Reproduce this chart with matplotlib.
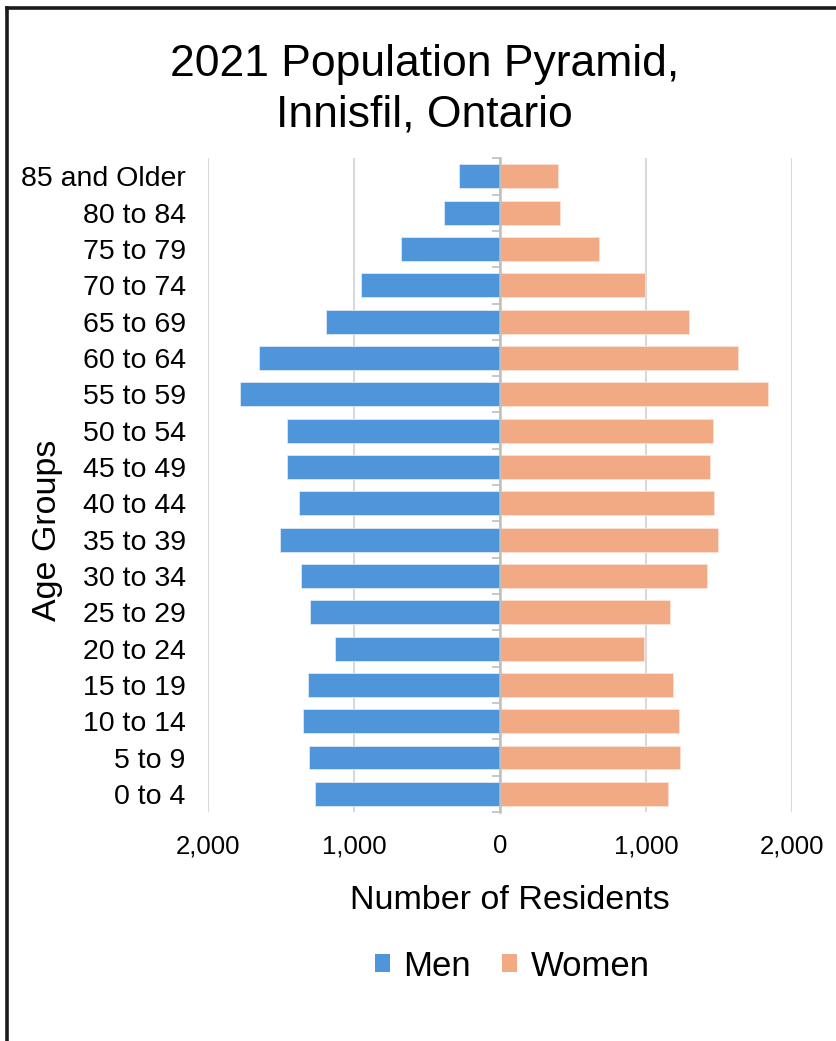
import matplotlib
matplotlib.use("Agg")
import matplotlib.pyplot as plt
from matplotlib.lines import Line2D
from matplotlib.patches import Patch
from matplotlib.ticker import FuncFormatter, FixedLocator, NullFormatter

plt.rcParams['font.family'] = ['Liberation Sans', 'DejaVu Sans']

age_groups = ["0 to 4", "5 to 9", "10 to 14", "15 to 19", "20 to 24", "25 to 29",
              "30 to 34", "35 to 39", "40 to 44", "45 to 49", "50 to 54", "55 to 59",
              "60 to 64", "65 to 69", "70 to 74", "75 to 79", "80 to 84", "85 and Older"]
men = [1268, 1307, 1348, 1318, 1129, 1303, 1362, 1510, 1378, 1458, 1458, 1780,
       1649, 1190, 949, 675, 385, 279]
women = [1153, 1232, 1227, 1182, 985, 1163, 1421, 1494, 1469, 1440, 1460, 1837,
         1629, 1291, 994, 681, 410, 398]
x_ticks = [-2000, -1000, 0, 1000, 2000]

men_color = "#4F95D9"
women_color = "#F1AA84"

fig = plt.figure(figsize=(8.36, 10.41), dpi=100)
rect = [0.2488, 0.22, 0.6986, 0.628]
ax = fig.add_axes(rect)

ypos = list(range(len(age_groups)))
ax.barh(ypos, [-v for v in men], height=0.66, color=men_color,
        edgecolor="#DCE9F7", linewidth=0.6, label="Men", zorder=3)
ax.barh(ypos, women, height=0.66, color=women_color,
        edgecolor="#FBE3D6", linewidth=0.6, label="Women", zorder=3)

ax.set_xlim(-2000, 2000)
ax.set_ylim(-0.5, len(age_groups) - 0.5)

for s in ax.spines.values():
    s.set_visible(False)

ax.set_xticks(x_ticks)
ax.xaxis.set_major_formatter(FuncFormatter(lambda v, p: f"{abs(int(v)):,}"))
ax.tick_params(axis="x", length=0, labelsize=18.5, pad=16)
ax.set_yticks(ypos)
ax.set_yticklabels(age_groups)
ax.tick_params(axis="y", length=0, labelsize=20.5, pad=16)
ax.grid(axis="x", color="#D9D9D9", linewidth=1.5, zorder=0)
ax.set_axisbelow(True)

# category axis line at zero with boundary ticks pointing left
axz = fig.add_axes(rect, zorder=5)
axz.patch.set_alpha(0)
axz.set_xlim(-2000, 2000)
axz.set_ylim(-0.5, len(age_groups) - 0.5)
for side in ("top", "right", "bottom"):
    axz.spines[side].set_visible(False)
axz.spines["left"].set_position(("data", 0))
axz.spines["left"].set_color("#BFBFBF")
axz.spines["left"].set_linewidth(1.8)
axz.set_xticks([])
axz.yaxis.set_major_locator(FixedLocator(
    [i - 0.5 for i in range(len(age_groups) + 1)]))
axz.yaxis.set_major_formatter(NullFormatter())
axz.tick_params(axis="y", length=6, width=1.2, color="#BFBFBF",
                direction="out", left=True, right=False, labelleft=False)

fig.text(0.61, 0.1354, "Number of Residents", fontsize=24.5,
         ha="center", va="center")
fig.text(0.057, 0.491, "Age Groups", rotation=90, fontsize=24.5,
         ha="center", va="center")

fig.text(0.508, 0.938, "2021 Population Pyramid,", fontsize=32,
         ha="center", va="center")
fig.text(0.508, 0.890, "Innisfil, Ontario", fontsize=32,
         ha="center", va="center")

handles = [Patch(facecolor=men_color, label="Men"),
           Patch(facecolor=women_color, label="Women")]
fig.legend(handles=handles, loc="center", bbox_to_anchor=(0.613, 0.072),
           ncol=2, frameon=False, fontsize=25, handlelength=0.42,
           handleheight=0.42, handletextpad=0.4, columnspacing=0.9)

# outer frame on top and left edges
fig.add_artist(Line2D([0.0085, 1.0], [0.9925, 0.9925], color="#1A1A1A",
                      linewidth=2.6, transform=fig.transFigure))
fig.add_artist(Line2D([0.0085, 0.0085], [0.0, 0.9925], color="#1A1A1A",
                      linewidth=2.6, transform=fig.transFigure))

fig.savefig("out.png", dpi=100, facecolor="white")
